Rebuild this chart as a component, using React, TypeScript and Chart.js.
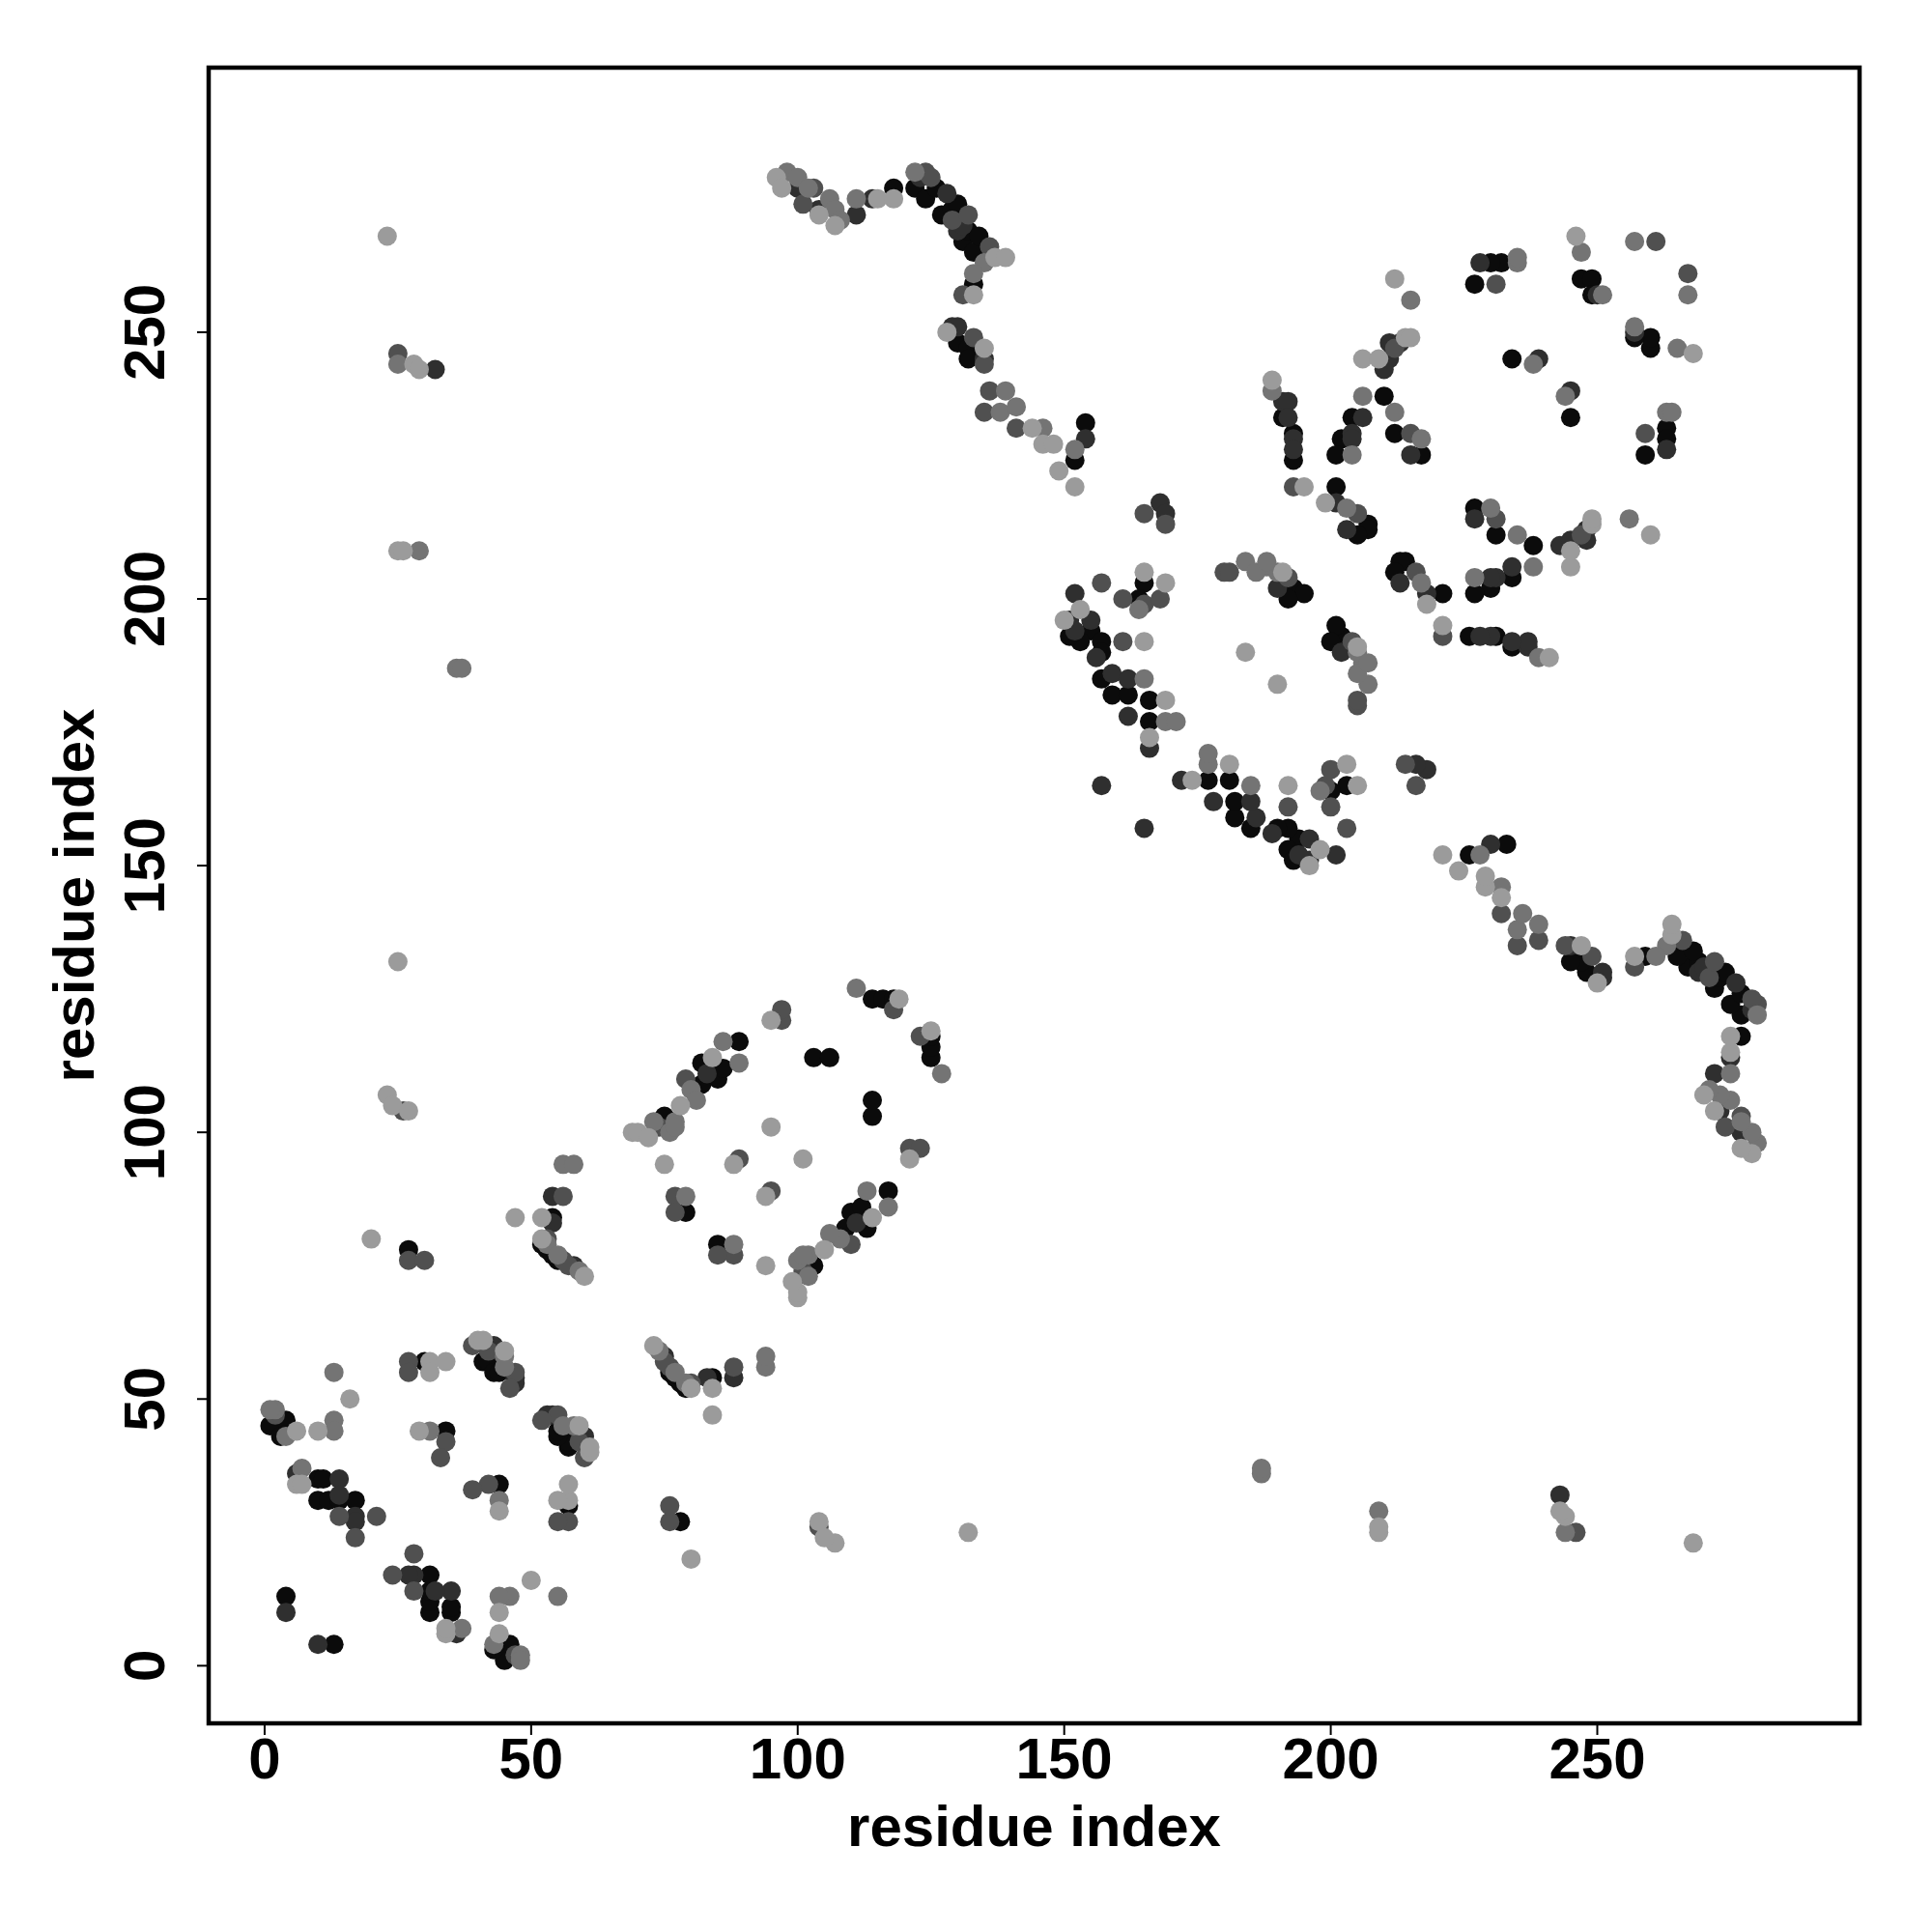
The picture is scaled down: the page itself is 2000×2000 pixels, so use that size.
import React, { useEffect, useRef } from "react";
import { Chart, registerables } from "chart.js";

Chart.register(...registerables);

// ---- axis / text ----
const xTicks = [0, 50, 100, 150, 200, 250];
const yTicks = [0, 50, 100, 150, 200, 250];
const xTitle = "residue index";
const yTitle = "residue index";
const xRange = [-10.5, 299.2];
const yRange = [-10.8, 299.6];

// gray level of each contact: 0 = black ... 4 = light gray
const levelColors = ["#0b0b0b", "#2f2f2f", "#505050", "#747474", "#9b9b9b"];

// Contact map is symmetric: every pair [i, j, level] (i < j) is drawn at (i, j) and (j, i)
const contactsRegionA: [number, number, number][] = [
  [1, 45, 0], [2, 47, 2], [2, 48, 3], [1, 48, 3], [4, 46, 0], [3, 43, 0], [4, 43, 3], [6, 44, 4],
  [10, 44, 4], [13, 46, 3], [13, 44, 3], [13, 55, 3], [16, 50, 4],
  [7, 37, 3], [6, 36, 1], [6, 34, 4], [7, 34, 4], [10, 35, 0], [11, 35, 0], [14, 35, 1], [10, 31, 0],
  [12, 31, 0], [14, 31, 0], [14, 32, 1], [17, 31, 0], [14, 28, 2], [17, 28, 1], [17, 27, 1],
  [21, 28, 2], [17, 24, 2], [4, 13, 0], [4, 10, 1],
  [27, 57, 2], [27, 55, 2], [30, 57, 0], [31, 57, 4], [31, 55, 4], [34, 57, 4],
  [29, 44, 4], [31, 44, 3], [34, 44, 0], [34, 42, 2], [33, 39, 2],
  [40, 61, 4], [41, 61, 4], [39, 60, 2], [43, 60, 1], [41, 57, 0], [42, 57, 0], [43, 55, 0],
  [44, 55, 0], [45, 58, 3], [45, 59, 4], [45, 56, 3], [47, 55, 2], [46, 52, 2], [47, 53, 1],
  [47, 54, 1], [44, 59, 1], [42, 59, 2],
];

const contactsRegionB: [number, number, number][] = [
  [23, 268, 4], [25, 246, 2], [25, 244, 3], [28, 244, 4], [29, 243, 4], [32, 243, 1],
  [25, 209, 4], [26, 209, 4], [29, 209, 3], [36, 187, 3], [37, 187, 3], [25, 132, 4],
  [23, 107, 4], [24, 105, 4], [26, 104, 2], [27, 104, 4], [20, 80, 4], [27, 78, 0],
  [27, 76, 2], [30, 76, 2],
];

const contactsRegionC: [number, number, number][] = [
  [52, 79, 0], [53, 78, 0], [54, 77, 0], [55, 76, 0],
  [53, 79, 3], [53, 80, 2], [55, 77, 3], [56, 76, 2], [57, 75, 2], [58, 75, 1], [59, 74, 3],
  [60, 73, 4], [52, 80, 4], [52, 84, 4], [47, 84, 4], [54, 84, 0], [54, 83, 1],
  [54, 88, 1], [56, 88, 2], [56, 94, 3], [58, 94, 3],
];

const contactsRegionD: [number, number, number][] = [
  [69, 100, 4], [70, 100, 4], [72, 99, 4], [73, 102, 3], [74, 101, 2], [75, 103, 0], [76, 100, 3],
  [77, 102, 3], [77, 101, 3], [78, 105, 4], [80, 108, 3], [81, 106, 3], [79, 110, 2], [82, 109, 0],
  [82, 113, 0], [83, 111, 1], [85, 110, 0], [86, 112, 0], [84, 114, 4], [86, 117, 3], [89, 117, 0],
  [89, 113, 3],
  [95, 121, 4], [97, 121, 2], [97, 123, 2], [111, 127, 3], [114, 125, 0], [116, 125, 0],
  [118, 125, 0], [119, 125, 4], [118, 123, 2], [103, 114, 0], [106, 114, 0], [95, 101, 4],
  [89, 95, 2], [88, 94, 4], [75, 94, 4], [77, 88, 2], [79, 88, 3], [77, 85, 2], [79, 85, 0],
];

const contactsRegionE: [number, number, number][] = [
  [96, 279, 4], [97, 277, 4], [98, 280, 3], [100, 279, 3], [100, 277, 1], [102, 277, 3],
  [101, 274, 2], [103, 277, 2], [104, 272, 4], [106, 275, 3], [104, 273, 1], [107, 273, 3],
  [107, 270, 4], [108, 271, 3], [111, 275, 3], [111, 272, 1], [114, 275, 1], [115, 275, 4],
  [118, 277, 0], [118, 275, 4],
  [122, 280, 3], [124, 280, 2], [122, 277, 0], [123, 279, 1], [124, 275, 0], [125, 279, 2],
  [126, 277, 0], [127, 272, 0], [128, 276, 1], [129, 273, 0], [129, 271, 2], [130, 274, 0],
  [130, 269, 1], [131, 270, 1], [131, 267, 0], [132, 272, 2], [132, 269, 0], [133, 265, 0],
  [134, 268, 0], [136, 266, 2], [135, 263, 3], [137, 264, 4], [139, 264, 4], [133, 261, 3],
  [133, 259, 0], [131, 257, 2], [133, 257, 4],
  [128, 250, 4], [129, 251, 1], [130, 251, 1], [130, 248, 0], [132, 247, 0], [133, 249, 2],
  [132, 245, 0], [135, 247, 4], [135, 244, 2], [135, 245, 1],
  [136, 239, 2], [139, 239, 3], [135, 235, 2], [138, 235, 3], [141, 236, 3], [141, 232, 2],
  [144, 232, 4], [146, 232, 3], [146, 229, 4], [148, 229, 4], [152, 228, 3], [154, 233, 0],
  [154, 230, 1], [152, 226, 0], [149, 224, 4], [152, 221, 4],
];

const contactsRegionF: [number, number, number][] = [
  [150, 196, 4], [151, 196, 1], [153, 198, 4], [152, 194, 1], [155, 194, 0], [153, 192, 0],
  [157, 192, 0], [156, 189, 1], [157, 190, 0], [161, 192, 2], [165, 192, 4], [157, 185, 0],
  [159, 186, 1], [162, 185, 1], [165, 185, 3], [159, 182, 0], [162, 182, 0], [166, 181, 0],
  [162, 178, 1], [166, 177, 0], [169, 181, 4], [169, 177, 3], [171, 177, 3], [166, 174, 4],
  [166, 172, 1], [152, 201, 1], [157, 203, 2], [155, 196, 1], [151, 193, 0], [157, 165, 1],
  [165, 205, 4], [165, 203, 0], [169, 203, 4], [161, 200, 2], [164, 200, 0], [165, 199, 2],
  [168, 200, 2], [164, 198, 3],
  [165, 216, 2], [168, 218, 1], [169, 216, 1], [169, 214, 2],
  [180, 205, 2], [184, 207, 3], [188, 206, 3], [190, 205, 3], [191, 205, 4], [192, 204, 2],
  [193, 202, 0], [195, 201, 0], [190, 202, 1], [192, 200, 0], [184, 190, 4], [186, 205, 3],
  [181, 205, 2], [188, 207, 3],
  [193, 221, 2], [195, 221, 4], [189, 241, 4], [189, 239, 3], [191, 237, 1], [192, 237, 1],
  [191, 234, 0], [192, 234, 1], [193, 231, 0], [193, 230, 1], [193, 226, 0], [193, 228, 1],
];

const contactsRegionG: [number, number, number][] = [
  [206, 245, 4], [209, 245, 4], [210, 243, 1], [211, 248, 1], [212, 247, 2], [213, 248, 1],
  [214, 249, 4], [215, 249, 4], [211, 245, 1], [206, 238, 3], [210, 238, 0], [204, 234, 0],
  [206, 234, 1], [204, 231, 1], [202, 230, 0], [204, 230, 1], [204, 227, 3], [201, 227, 0],
  [212, 235, 3], [212, 231, 0], [215, 231, 2], [217, 230, 3], [215, 227, 1], [217, 227, 0],
  [201, 221, 0], [199, 218, 4], [201, 218, 1], [203, 217, 3], [205, 216, 2], [207, 214, 0],
  [207, 213, 0], [203, 213, 1], [205, 212, 0],
  [228, 263, 1], [232, 263, 0], [235, 263, 3], [227, 259, 0], [231, 259, 2], [230, 263, 0],
  [235, 264, 3], [247, 260, 0], [249, 260, 0], [249, 257, 0], [251, 257, 3], [250, 257, 1],
  [246, 268, 4], [247, 265, 3], [257, 267, 3], [261, 267, 2], [212, 260, 4], [215, 256, 3],
  [234, 245, 0], [239, 245, 1], [238, 244, 3],
];

const allContacts = [
  ...contactsRegionA, ...contactsRegionB, ...contactsRegionC, ...contactsRegionD,
  ...contactsRegionE, ...contactsRegionF, ...contactsRegionG,
];

const FONT = "'Liberation Sans', Arial, Helvetica, sans-serif";

const framePlugin = {
  id: "rFrame",
  afterDatasetsDraw(chart: any) {
    const { ctx, chartArea: a, scales } = chart;
    ctx.save();
    ctx.strokeStyle = "#000";
    ctx.fillStyle = "#000";
    ctx.lineWidth = 4.5;
    ctx.strokeRect(a.left, a.top, a.right - a.left, a.bottom - a.top);
    ctx.lineWidth = 2;
    ctx.font = `bold 60px ${FONT}`;
    ctx.textAlign = "center";
    ctx.textBaseline = "alphabetic";
    for (const t of xTicks) {
      const px = scales.x.getPixelForValue(t);
      ctx.beginPath();
      ctx.moveTo(px, a.bottom);
      ctx.lineTo(px, a.bottom + 12);
      ctx.stroke();
      ctx.fillText(String(t), px, a.bottom + 57);
    }
    for (const t of yTicks) {
      const py = scales.y.getPixelForValue(t);
      ctx.beginPath();
      ctx.moveTo(a.left, py);
      ctx.lineTo(a.left - 12, py);
      ctx.stroke();
      ctx.save();
      ctx.translate(a.left - 46, py);
      ctx.rotate(-Math.PI / 2);
      ctx.fillText(String(t), 0, 0);
      ctx.restore();
    }
    ctx.fillText(xTitle, (a.left + a.right) / 2, a.bottom + 127);
    ctx.save();
    ctx.translate(a.left - 119, (a.top + a.bottom) / 2);
    ctx.rotate(-Math.PI / 2);
    ctx.fillText(yTitle, 0, 0);
    ctx.restore();
    ctx.restore();
  },
};

export default function App() {
  const ref = useRef<HTMLCanvasElement | null>(null);
  useEffect(() => {
    if (!ref.current) return;
    const drawOrder = [4, 3, 2, 1, 0];
    const datasets = drawOrder.map((lvl) => {
      const pts: { x: number; y: number }[] = [];
      for (const [i, j, l] of allContacts) {
        if (l !== lvl) continue;
        pts.push({ x: i, y: j });
        pts.push({ x: j, y: i });
      }
      return {
        label: `level ${lvl}`,
        data: pts,
        backgroundColor: levelColors[lvl],
        borderWidth: 0,
        pointRadius: 10,
        pointHoverRadius: 10,
      };
    });
    const chart = new Chart(ref.current, {
      type: "scatter",
      data: { datasets },
      options: {
        animation: false,
        responsive: false,
        devicePixelRatio: 1,
        events: [],
        layout: { padding: { left: 216, right: 75, top: 70, bottom: 216 } },
        plugins: { legend: { display: false }, tooltip: { enabled: false } },
        scales: {
          x: { type: "linear", min: xRange[0], max: xRange[1], display: false },
          y: { type: "linear", min: yRange[0], max: yRange[1], display: false },
        },
      },
      plugins: [framePlugin],
    });
    return () => chart.destroy();
  }, []);
  return (
    <div style={{ position: "absolute", left: 0, top: 0, width: 2000, height: 2000, background: "#fff" }}>
      <canvas ref={ref} width={2000} height={2000} />
    </div>
  );
}
